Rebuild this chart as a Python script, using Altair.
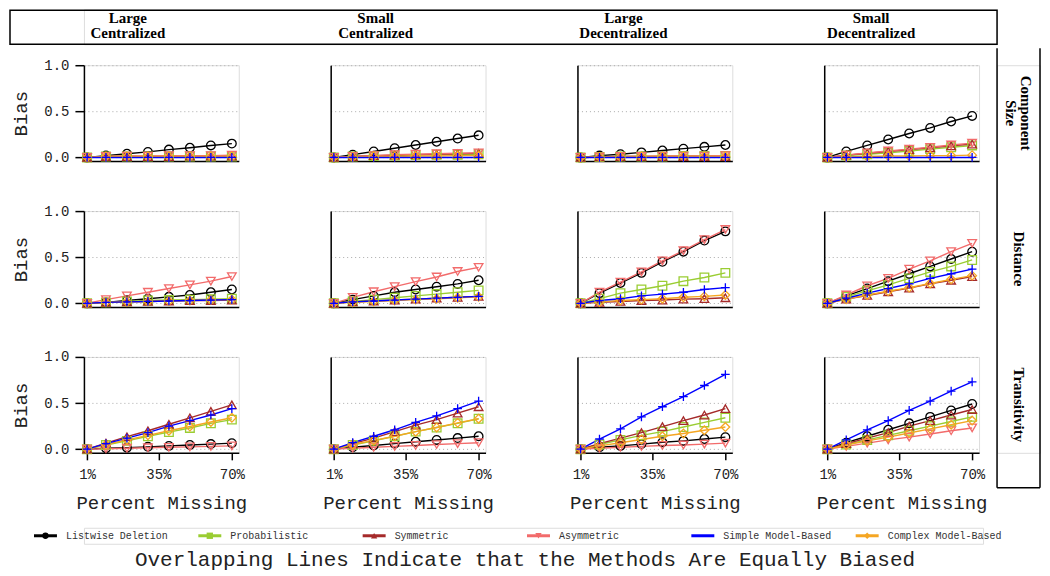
import altair as alt
import pandas as pd

PCT = [1, 10, 20, 30, 40, 50, 60, 70]
X_TICKS = [1, 35, 70]
Y_TICKS = [0.0, 0.5, 1.0]

METHODS = ["Listwise Deletion", "Probabilistic", "Symmetric", "Asymmetric",
           "Simple Model-Based", "Complex Model-Based"]
COLORS = ["#000000", "#9ACD32", "#A52A2A", "#F26B6B", "#0000FF", "#F5A623"]
SHAPES = ["circle", "square", "triangle-up", "triangle-down", "M-1,0H1M0,-1V1", "diamond"]
DRAW_ORDER = [0, 1, 2, 3, 5, 4]

NET_LINE1 = ["Large", "Small", "Large", "Small"]
NET_LINE2 = ["Centralized", "Centralized", "Decentralized", "Decentralized"]
MEAS_LINE1 = ["Component", "Distance", "Transitivity"]
MEAS_LINE2 = ["Size", "", ""]

# ---- Component Size ----
size_large_cent = {
    "Listwise Deletion": [0.0, 0.02, 0.04, 0.06, 0.085, 0.105, 0.13, 0.15],
    "Probabilistic": [0.0, 0.01, 0.01, 0.01, 0.01, 0.01, 0.01, 0.01],
    "Symmetric": [0.0, 0.01, 0.01, 0.01, 0.01, 0.015, 0.015, 0.015],
    "Asymmetric": [0.0, 0.01, 0.015, 0.015, 0.02, 0.02, 0.02, 0.025],
    "Simple Model-Based": [0.0, 0.0, 0.0, 0.0, 0.0, 0.0, 0.0, 0.0],
    "Complex Model-Based": [0.0, 0.01, 0.01, 0.01, 0.01, 0.01, 0.01, 0.01],
}
size_small_cent = {
    "Listwise Deletion": [0.0, 0.03, 0.065, 0.10, 0.135, 0.17, 0.205, 0.24],
    "Probabilistic": [0.0, 0.01, 0.015, 0.02, 0.025, 0.03, 0.03, 0.035],
    "Symmetric": [0.0, 0.01, 0.02, 0.025, 0.03, 0.035, 0.04, 0.045],
    "Asymmetric": [0.0, 0.01, 0.02, 0.03, 0.035, 0.04, 0.045, 0.05],
    "Simple Model-Based": [0.0, 0.0, 0.0, 0.0, 0.0, 0.0, 0.0, 0.0],
    "Complex Model-Based": [0.0, 0.005, 0.01, 0.01, 0.015, 0.015, 0.02, 0.02],
}
size_large_dec = {
    "Listwise Deletion": [0.0, 0.02, 0.035, 0.055, 0.075, 0.095, 0.115, 0.135],
    "Probabilistic": [0.0, 0.005, 0.01, 0.01, 0.01, 0.015, 0.015, 0.015],
    "Symmetric": [0.0, 0.005, 0.01, 0.01, 0.01, 0.01, 0.01, 0.01],
    "Asymmetric": [0.0, 0.005, 0.01, 0.01, 0.015, 0.015, 0.015, 0.02],
    "Simple Model-Based": [0.0, 0.0, 0.0, 0.0, 0.0, 0.0, 0.0, 0.0],
    "Complex Model-Based": [0.0, 0.005, 0.005, 0.01, 0.01, 0.01, 0.01, 0.01],
}
size_small_dec = {
    "Listwise Deletion": [0.0, 0.065, 0.13, 0.195, 0.26, 0.32, 0.39, 0.45],
    "Probabilistic": [0.0, 0.02, 0.035, 0.05, 0.07, 0.09, 0.11, 0.13],
    "Symmetric": [0.0, 0.025, 0.045, 0.065, 0.085, 0.105, 0.125, 0.145],
    "Asymmetric": [0.0, 0.025, 0.05, 0.07, 0.09, 0.11, 0.135, 0.155],
    "Simple Model-Based": [0.0, 0.0, 0.0, 0.0, 0.0, 0.0, 0.0, 0.0],
    "Complex Model-Based": [0.0, 0.005, 0.01, 0.015, 0.015, 0.02, 0.02, 0.025],
}
# ---- Distance ----
dist_large_cent = {
    "Listwise Deletion": [0.0, 0.01, 0.03, 0.05, 0.07, 0.09, 0.12, 0.15],
    "Probabilistic": [0.0, 0.01, 0.02, 0.03, 0.035, 0.04, 0.045, 0.05],
    "Symmetric": [0.0, 0.01, 0.015, 0.02, 0.025, 0.03, 0.03, 0.035],
    "Asymmetric": [0.0, 0.04, 0.08, 0.12, 0.16, 0.20, 0.24, 0.29],
    "Simple Model-Based": [0.0, 0.01, 0.015, 0.02, 0.025, 0.03, 0.035, 0.04],
    "Complex Model-Based": [0.0, 0.01, 0.015, 0.02, 0.025, 0.03, 0.035, 0.04],
}
dist_small_cent = {
    "Listwise Deletion": [0.0, 0.04, 0.08, 0.12, 0.15, 0.18, 0.21, 0.25],
    "Probabilistic": [0.0, 0.02, 0.04, 0.06, 0.08, 0.10, 0.12, 0.14],
    "Symmetric": [0.0, 0.015, 0.025, 0.035, 0.045, 0.055, 0.065, 0.075],
    "Asymmetric": [0.0, 0.065, 0.125, 0.18, 0.235, 0.285, 0.345, 0.39],
    "Simple Model-Based": [0.0, 0.015, 0.025, 0.035, 0.045, 0.055, 0.065, 0.075],
    "Complex Model-Based": [0.0, 0.01, 0.02, 0.03, 0.04, 0.05, 0.06, 0.07],
}
dist_large_dec = {
    "Listwise Deletion": [0.0, 0.11, 0.22, 0.33, 0.45, 0.56, 0.68, 0.78],
    "Probabilistic": [0.0, 0.05, 0.11, 0.15, 0.19, 0.24, 0.28, 0.33],
    "Symmetric": [0.0, 0.01, 0.02, 0.03, 0.035, 0.045, 0.05, 0.06],
    "Asymmetric": [0.0, 0.12, 0.23, 0.34, 0.46, 0.57, 0.69, 0.80],
    "Simple Model-Based": [0.0, 0.03, 0.05, 0.08, 0.10, 0.12, 0.15, 0.17],
    "Complex Model-Based": [0.0, 0.015, 0.03, 0.04, 0.05, 0.065, 0.075, 0.09],
}
dist_small_dec = {
    "Listwise Deletion": [0.0, 0.08, 0.16, 0.24, 0.32, 0.40, 0.48, 0.56],
    "Probabilistic": [0.0, 0.07, 0.135, 0.20, 0.27, 0.34, 0.40, 0.47],
    "Symmetric": [0.0, 0.045, 0.085, 0.125, 0.165, 0.21, 0.25, 0.29],
    "Asymmetric": [0.0, 0.09, 0.19, 0.27, 0.37, 0.46, 0.56, 0.65],
    "Simple Model-Based": [0.0, 0.055, 0.11, 0.16, 0.21, 0.27, 0.32, 0.37],
    "Complex Model-Based": [0.0, 0.045, 0.09, 0.13, 0.17, 0.215, 0.26, 0.30],
}
# ---- Transitivity ----
trans_large_cent = {
    "Listwise Deletion": [0.0, 0.01, 0.015, 0.025, 0.035, 0.045, 0.055, 0.065],
    "Probabilistic": [0.0, 0.045, 0.09, 0.14, 0.185, 0.23, 0.28, 0.32],
    "Symmetric": [0.0, 0.065, 0.135, 0.20, 0.27, 0.34, 0.41, 0.48],
    "Asymmetric": [0.0, 0.005, 0.01, 0.015, 0.02, 0.025, 0.03, 0.035],
    "Simple Model-Based": [0.0, 0.06, 0.12, 0.18, 0.25, 0.31, 0.37, 0.44],
    "Complex Model-Based": [0.0, 0.05, 0.10, 0.15, 0.20, 0.245, 0.295, 0.34],
}
trans_small_cent = {
    "Listwise Deletion": [0.0, 0.02, 0.04, 0.06, 0.08, 0.10, 0.12, 0.14],
    "Probabilistic": [0.0, 0.045, 0.09, 0.14, 0.19, 0.235, 0.28, 0.33],
    "Symmetric": [0.0, 0.06, 0.12, 0.19, 0.26, 0.32, 0.39, 0.46],
    "Asymmetric": [0.0, 0.01, 0.02, 0.03, 0.04, 0.05, 0.06, 0.07],
    "Simple Model-Based": [0.0, 0.07, 0.14, 0.21, 0.29, 0.36, 0.44, 0.52],
    "Complex Model-Based": [0.0, 0.05, 0.095, 0.14, 0.19, 0.235, 0.285, 0.33],
}
trans_large_dec = {
    "Listwise Deletion": [0.0, 0.02, 0.035, 0.055, 0.075, 0.09, 0.11, 0.13],
    "Probabilistic": [0.0, 0.05, 0.10, 0.15, 0.19, 0.24, 0.29, 0.34],
    "Symmetric": [0.0, 0.06, 0.12, 0.18, 0.245, 0.31, 0.37, 0.44],
    "Asymmetric": [0.0, 0.01, 0.02, 0.03, 0.04, 0.045, 0.055, 0.065],
    "Simple Model-Based": [0.0, 0.11, 0.22, 0.35, 0.46, 0.57, 0.69, 0.81],
    "Complex Model-Based": [0.0, 0.035, 0.07, 0.105, 0.14, 0.17, 0.205, 0.24],
}
trans_small_dec = {
    "Listwise Deletion": [0.0, 0.07, 0.14, 0.21, 0.28, 0.35, 0.42, 0.49],
    "Probabilistic": [0.0, 0.05, 0.10, 0.15, 0.20, 0.25, 0.30, 0.35],
    "Symmetric": [0.0, 0.06, 0.12, 0.18, 0.25, 0.31, 0.37, 0.43],
    "Asymmetric": [0.0, 0.03, 0.065, 0.10, 0.13, 0.165, 0.20, 0.23],
    "Simple Model-Based": [0.0, 0.10, 0.21, 0.31, 0.42, 0.52, 0.63, 0.73],
    "Complex Model-Based": [0.0, 0.045, 0.09, 0.13, 0.175, 0.22, 0.265, 0.31],
}

PANELS = [
    [size_large_cent, size_small_cent, size_large_dec, size_small_dec],
    [dist_large_cent, dist_small_cent, dist_large_dec, dist_small_dec],
    [trans_large_cent, trans_small_cent, trans_large_dec, trans_small_dec],
]

MONO = "Liberation Mono"
SERIF = "Liberation Serif"
TXT = "#222222"

color_scale = alt.Scale(domain=METHODS, range=COLORS)
shape_scale = alt.Scale(domain=METHODS, range=SHAPES)

# layout
PANEL_W, PANEL_H = 155, 96
COL_PITCH, ROW_PITCH = 248, 146
LEFT_EXT = 75            # approx. width of the y-axis block left of a plot
COL_SP, ROW_SP = 10, 38  # spacing between panel bounds
HEAD_H, HEAD_GAP = 35, 16
STRIP_GAP, STRIP_W = 7, 43
STRIP_H = 2 * ROW_PITCH + PANEL_H
STRIP_BOX_BOTTOM = STRIP_H + 35
LEG_GAP, LEG_H = 13, 16


def panel_df(d):
    rows = []
    for z, mi in enumerate(DRAW_ORDER):
        m = METHODS[mi]
        for p, v in zip(PCT, d[m]):
            rows.append({"pct": p, "bias": v, "method": m, "z": z})
    return pd.DataFrame(rows)


def make_panel(r, c):
    df = panel_df(PANELS[r][c])
    first = c == 0
    bottom = r == 2
    x = alt.X(
        "pct:Q",
        scale=alt.Scale(domain=[-0.5, 73.3], nice=False, zero=False),
        axis=alt.Axis(
            values=X_TICKS, labelExpr="datum.value + '%'",
            title="Percent Missing" if bottom else None,
            labels=bottom, ticks=bottom, tickSize=7, tickColor="black", tickWidth=1.5,
            grid=False, domainColor="black", domainWidth=1.5,
            labelFont=MONO, labelFontSize=14, labelPadding=8, labelColor=TXT,
            titleFont=MONO, titleFontSize=19, titleFontWeight="normal",
            titlePadding=12, titleColor=TXT,
        ),
    )
    y = alt.Y(
        "bias:Q",
        scale=alt.Scale(domain=[-0.04, 1.0], nice=False, zero=False),
        axis=alt.Axis(
            values=Y_TICKS, format=".1f", title="Bias",
            grid=True, gridDash=[1, 3], gridColor="#aaaaaa", gridWidth=1,
            domainColor="black", domainWidth=1.5,
            ticks=True, tickSize=9, tickWidth=1.5,
            tickColor="black" if first else "transparent",
            labelFont=MONO, labelFontSize=14, labelPadding=6,
            labelColor=TXT if first else "transparent",
            titleFont=MONO, titleFontSize=19, titleFontWeight="normal",
            titlePadding=13, titleColor=TXT if first else "transparent",
        ),
    )
    color = alt.Color("method:N", scale=color_scale, legend=None)
    base = alt.Chart(df)
    lines = base.mark_line(strokeWidth=1.4).encode(
        x=x, y=y, color=color, detail="z:O"
    )
    pts = base.mark_point(filled=False, strokeWidth=1.3, size=75, opacity=1).encode(
        x=x, y=y, color=color,
        shape=alt.Shape("method:N", scale=shape_scale, legend=None),
    )
    return alt.layer(lines, pts).properties(width=PANEL_W, height=PANEL_H)


grid = alt.concat(
    *[make_panel(r, c) for r in range(3) for c in range(4)],
    columns=4,
    spacing=alt.RowColnumber(row=ROW_SP, column=COL_SP),
)

one = pd.DataFrame({"a": [0]})

# ---- header strip (column labels) ----
HEAD_W = 997 - 8 - LEFT_EXT
head_df = pd.DataFrame({"pos": [i + 0.5 for i in range(4)], "l1": NET_LINE1, "l2": NET_LINE2})
head_box = alt.Chart(one).mark_rect(fill="transparent", stroke="black", strokeWidth=1.5).encode(
    x=alt.value(-LEFT_EXT + 1), x2=alt.value(HEAD_W), y=alt.value(1), y2=alt.value(HEAD_H)
)
H_A = 0.5 - (127 - 8 - LEFT_EXT) / COL_PITCH
hx = alt.X("pos:Q", scale=alt.Scale(domain=[H_A, H_A + HEAD_W / COL_PITCH], nice=False, zero=False), axis=None)
head_style = dict(font=SERIF, fontWeight="bold", fontSize=15, baseline="middle", align="center", color="black")
head_t1 = alt.Chart(head_df).mark_text(**head_style).encode(x=hx, y=alt.value(9), text="l1:N")
head_t2 = alt.Chart(head_df).mark_text(**head_style).encode(x=hx, y=alt.value(24), text="l2:N")
header = alt.layer(head_box, head_t1, head_t2).properties(width=HEAD_W, height=HEAD_H)

# ---- right strip (row labels), box drawn as three rules so it joins the header box ----
row_df = pd.DataFrame({"pos": [i + 0.5 for i in range(3)], "l1": MEAS_LINE1, "l2": MEAS_LINE2})
row_df["two"] = row_df["l2"] != ""
rule_style = dict(color="black", strokeWidth=1.5)
strip_left = alt.Chart(one).mark_rule(**rule_style).encode(
    x=alt.value(0), y=alt.value(-HEAD_GAP - 1), y2=alt.value(STRIP_BOX_BOTTOM))
strip_right = alt.Chart(one).mark_rule(**rule_style).encode(
    x=alt.value(STRIP_W), y=alt.value(-HEAD_GAP - 1), y2=alt.value(STRIP_BOX_BOTTOM))
strip_bottom = alt.Chart(one).mark_rule(**rule_style).encode(
    x=alt.value(0), x2=alt.value(STRIP_W), y=alt.value(STRIP_BOX_BOTTOM))
S_A = 0.5 - (PANEL_H / 2) / ROW_PITCH
sy = alt.Y("pos:Q", scale=alt.Scale(domain=[S_A, S_A + STRIP_H / ROW_PITCH], nice=False, zero=False, reverse=True), axis=None)
strip_style = dict(font=SERIF, fontWeight="bold", fontSize=15, baseline="middle", align="center", angle=90, color="black")
strip_a = alt.Chart(row_df).transform_filter("datum.two").mark_text(**strip_style).encode(
    y=sy, x=alt.value(STRIP_W / 2 + 7), text="l1:N")
strip_b = alt.Chart(row_df).transform_filter("datum.two").mark_text(**strip_style).encode(
    y=sy, x=alt.value(STRIP_W / 2 - 8), text="l2:N")
strip_c = alt.Chart(row_df).transform_filter("!datum.two").mark_text(**strip_style).encode(
    y=sy, x=alt.value(STRIP_W / 2), text="l1:N")
strip = alt.layer(strip_left, strip_right, strip_bottom, strip_a, strip_b, strip_c).properties(
    width=STRIP_W, height=STRIP_H)

# ---- custom legend ----
UNIT = 164.5
LEG_W = 900
D0 = (LEFT_EXT + 8 - 33) / UNIT
leg_df = pd.DataFrame({"idx": list(range(6)), "method": METHODS})
leg_df["x0"] = leg_df["idx"]
leg_df["x1"] = leg_df["idx"] + 23 / UNIT
leg_df["xm"] = leg_df["idx"] + 11.5 / UNIT
leg_df["xt"] = leg_df["idx"] + 32 / UNIT
lx = alt.Scale(domain=[D0, D0 + LEG_W / UNIT], nice=False, zero=False)
lcolor = alt.Color("method:N", scale=color_scale, legend=None)
leg_base = alt.Chart(leg_df)
leg_rule = leg_base.mark_rule(strokeWidth=3).encode(
    x=alt.X("x0:Q", scale=lx, axis=None), x2="x1:Q", y=alt.value(LEG_H / 2), color=lcolor
)
leg_pt = leg_base.mark_point(filled=True, size=40, opacity=1, strokeWidth=1.5).encode(
    x=alt.X("xm:Q", scale=lx, axis=None), y=alt.value(LEG_H / 2), color=lcolor,
    shape=alt.Shape("method:N", scale=shape_scale, legend=None),
)
leg_txt = leg_base.mark_text(align="left", baseline="middle", font=MONO, fontSize=10, color="#333333").encode(
    x=alt.X("xt:Q", scale=lx, axis=None), y=alt.value(LEG_H / 2), text="method:N"
)
legend = alt.layer(leg_rule, leg_pt, leg_txt).properties(width=LEG_W, height=LEG_H)

body = alt.hconcat(grid, strip, spacing=STRIP_GAP)
top = alt.vconcat(header, body, spacing=0)

chart = alt.vconcat(
    top, legend, spacing=LEG_GAP
).properties(
    padding={"left": 0, "top": 0, "right": 0, "bottom": 0},
    title=alt.TitleParams(
        "Overlapping Lines Indicate that the Methods Are Equally Biased",
        orient="bottom", anchor="middle", font=MONO, fontSize=21,
        fontWeight="normal", color=TXT, offset=5,
    ),
).configure_view(stroke="transparent").configure(background="white")

chart.save("out.html", embed_options={"renderer": "svg", "actions": False})
